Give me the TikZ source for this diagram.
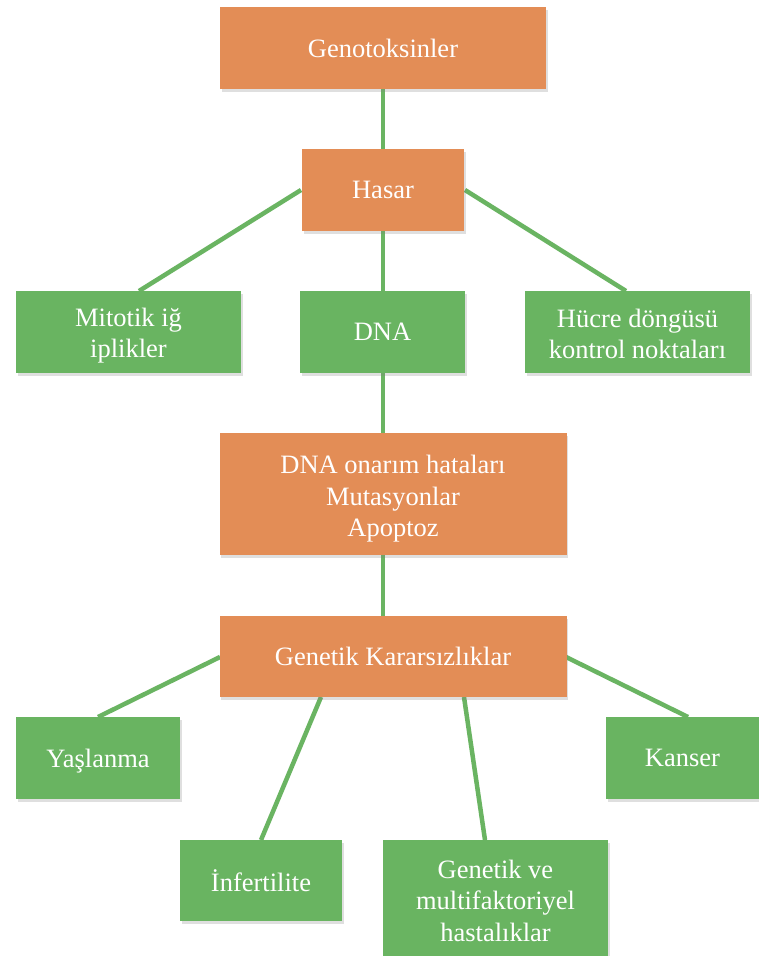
\documentclass[tikz,border=0pt]{standalone}
\usepackage{fontspec}
\setmainfont{Liberation Serif}
\usetikzlibrary{shadows}
\definecolor{boxorange}{HTML}{E38D56}
\definecolor{boxgreen}{HTML}{69B461}
\definecolor{linegreen}{HTML}{6AB462}
\newcommand{\topstrut}[1]{\rule{0pt}{#1}}
\begin{document}
\begin{tikzpicture}[x=1pt,y=-1pt,
  basebox/.style={rectangle, inner sep=0pt, align=center, text=white,
    font=\fontsize{26.5}{31.5}\selectfont,
    drop shadow={opacity=0.25, shadow xshift=1.5pt, shadow yshift=-2.5pt}},
  obox/.style={basebox, fill=boxorange},
  gbox/.style={basebox, fill=boxgreen},
  conn/.style={draw=linegreen, line width=4.5pt}]
\useasboundingbox (0,0) rectangle (759,956);
\fill[white] (0,0) rectangle (759,956);
% connector end points
\coordinate (c1) at (383,89);
\coordinate (c2) at (383,149);
\coordinate (hw) at (301,190);
\coordinate (he) at (465,190);
\coordinate (mt) at (139,291);
\coordinate (ht) at (626,291);
\coordinate (d1) at (383,231);
\coordinate (d2) at (383,291);
\coordinate (d3) at (383,373);
\coordinate (d4) at (383,433);
\coordinate (d5) at (383,555);
\coordinate (d6) at (383,616);
\coordinate (kw) at (220,657);
\coordinate (ke) at (566,657);
\coordinate (yt) at (98,717);
\coordinate (kt) at (688,717);
\coordinate (kb1) at (321,697);
\coordinate (kb2) at (464,697);
\coordinate (it) at (261,840);
\coordinate (gt) at (485,840);
\draw[conn] (c1) -- (c2);
\draw[conn] (hw) -- (mt);
\draw[conn] (he) -- (ht);
\draw[conn] (d1) -- (d2);
\draw[conn] (d3) -- (d4);
\draw[conn] (d5) -- (d6);
\draw[conn] (kw) -- (yt);
\draw[conn] (ke) -- (kt);
\draw[conn] (kb1) -- (it);
\draw[conn] (kb2) -- (gt);
% boxes
\node[obox, minimum width=326pt, minimum height=82pt] (geno) at (383,48) {Genotoksinler};
\node[obox, minimum width=162pt, minimum height=82pt] (hasar) at (383,190) {Hasar};
\node[gbox, minimum width=225pt, minimum height=82pt] (mito) at (128.5,332) {\topstrut{26pt}Mitotik iğ\\iplikler};
\node[gbox, minimum width=165pt, minimum height=82pt] (dna) at (382.5,332) {DNA};
\node[gbox, minimum width=225pt, minimum height=82pt] (hucre) at (637.5,332) {\topstrut{22pt}Hücre döngüsü\\kontrol noktaları};
\node[obox, minimum width=347pt, minimum height=122pt] (onarim) at (393,494) {\topstrut{28pt}DNA onarım hataları\\Mutasyonlar\\Apoptoz};
\node[obox, minimum width=347pt, minimum height=81pt] (karar) at (393,656.5) {Genetik Kararsızlıklar};
\node[gbox, minimum width=164pt, minimum height=82pt] (yasl) at (98,758) {\topstrut{24pt}Yaşlanma};
\node[gbox, minimum width=153pt, minimum height=82pt] (kanser) at (682.5,758) {Kanser};
\node[gbox, minimum width=162pt, minimum height=81pt] (infert) at (261,880.5) {İnfertilite};
\node[gbox, minimum width=225pt, minimum height=116pt] (hast) at (495.5,898) {\topstrut{24pt}Genetik ve\\multifaktoriyel\\hastalıklar};
\end{tikzpicture}
\end{document}
